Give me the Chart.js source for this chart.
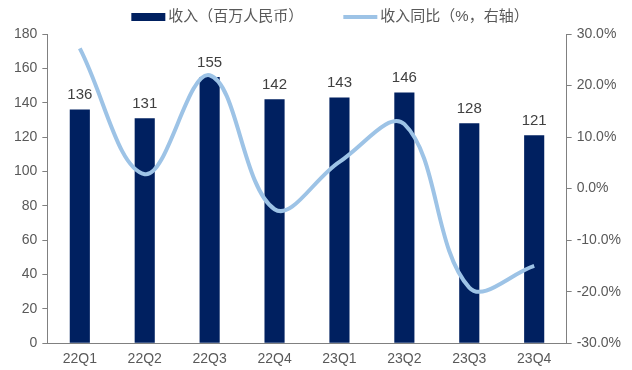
<!DOCTYPE html>
<html>
<head>
<meta charset="utf-8">
<script src="https://cdn.jsdelivr.net/npm/chart.js@4"></script>
<style>
  html, body { margin: 0; padding: 0; background: #fff; }
  #wrap { width: 632px; height: 370px; }
</style>
</head>
<body>
<div id="wrap"><canvas id="revenue-chart"></canvas></div>
<script>
const quarters = ['22Q1', '22Q2', '22Q3', '22Q4', '23Q1', '23Q2', '23Q3', '23Q4'];
const revenue = [136, 131, 155, 142, 143, 146, 128, 121];
const revenueYoy = [27.2, 2.8, 22.0, -4.0, 5.2, 12.5, -19.2, -15.0];
const revenueTicks = [0, 20, 40, 60, 80, 100, 120, 140, 160, 180];
const yoyTicks = [-30, -20, -10, 0, 10, 20, 30];
const legendNames = ['收入（百万人民币）', '收入同比（%，右轴）'];

const navy = '#002060';
const lightBlue = '#9dc3e6';
const textGray = '#595959';
const axisGray = '#808080';
const fontFamily = '"Liberation Sans", Arial, "Noto Sans CJK SC", sans-serif';

// value labels above each bar (bar dataset is index 1)
const barLabels = {
    id: 'barLabels',
    afterDatasetsDraw(chart) {
        const meta = chart.getDatasetMeta(1);
        const c = chart.ctx;
        c.save();
        c.font = '15px ' + fontFamily;
        c.fillStyle = '#404040';
        c.textAlign = 'center';
        c.textBaseline = 'bottom';
        meta.data.forEach((bar, i) => {
            c.fillText(revenue[i], bar.x, bar.y - 7);
        });
        c.restore();
    }
};

// legend row drawn by hand: wide swatch, small gap, label
const topLegend = {
    id: 'topLegend',
    afterDraw(chart) {
        const c = chart.ctx;
        c.save();
        c.font = '15px ' + fontFamily;
        c.textBaseline = 'middle';
        c.fillStyle = textGray;
        const sw = 34, gap = 3, between = 40, y = 17;
        const w0 = c.measureText(legendNames[0]).width;
        const w1 = c.measureText(legendNames[1]).width;
        const total = sw + gap + w0 + between + sw + gap + w1;
        let x = (chart.width - total) / 2 + 14;
        c.fillStyle = navy;
        c.fillRect(x, y - 4, sw, 8);
        x += sw + gap;
        c.fillStyle = textGray;
        c.fillText(legendNames[0], x, y);
        x += w0 + between;
        c.strokeStyle = lightBlue;
        c.lineWidth = 4;
        c.beginPath();
        c.moveTo(x, y);
        c.lineTo(x + sw, y);
        c.stroke();
        x += sw + gap;
        c.fillText(legendNames[1], x, y);
        c.restore();
    }
};

const renderChart = () => {
    const ctx = document.getElementById('revenue-chart');
    new Chart(ctx, {
        data: {
            labels: quarters,
            datasets: [{
                type: 'line',
                label: legendNames[1],
                data: revenueYoy,
                borderColor: lightBlue,
                backgroundColor: lightBlue,
                borderWidth: 4,
                tension: 0.38,
                pointRadius: 0,
                yAxisID: 'y1',
                order: 0
            },
            {
                type: 'bar',
                label: legendNames[0],
                data: revenue,
                backgroundColor: navy,
                categoryPercentage: 1,
                barPercentage: 0.31,
                yAxisID: 'y',
                order: 1
            }]
        },
        options: {
            responsive: true,
            maintainAspectRatio: false,
            animation: false,
            layout: { padding: { left: 9, right: 6, top: 34, bottom: -6 } },
            plugins: {
                tooltip: { enabled: false },
                legend: { display: false }
            },
            scales: {
                x: {
                    grid: { display: false, drawTicks: false },
                    border: { display: true, color: axisGray, width: 1 },
                    ticks: { color: textGray, font: { family: fontFamily, size: 14 }, padding: 8 }
                },
                y: {
                    type: 'linear',
                    position: 'left',
                    min: 0,
                    max: 180,
                    afterBuildTicks: (scale) => { scale.ticks = revenueTicks.map(v => ({ value: v })); },
                    grid: { drawOnChartArea: false, drawTicks: true, tickLength: 5, color: axisGray },
                    border: { display: true, color: axisGray, width: 1 },
                    ticks: { color: textGray, font: { family: fontFamily, size: 14 }, padding: 5 }
                },
                y1: {
                    type: 'linear',
                    position: 'right',
                    min: -30,
                    max: 30,
                    afterBuildTicks: (scale) => { scale.ticks = yoyTicks.map(v => ({ value: v })); },
                    grid: { drawOnChartArea: false, drawTicks: true, tickLength: 5, color: axisGray },
                    border: { display: true, color: axisGray, width: 1 },
                    ticks: {
                        color: textGray,
                        font: { family: fontFamily, size: 14 },
                        padding: 5,
                        callback: (v) => v.toFixed(1) + '%'
                    }
                }
            }
        },
        plugins: [barLabels, topLegend]
    });
};

renderChart();
</script>
</body>
</html>
